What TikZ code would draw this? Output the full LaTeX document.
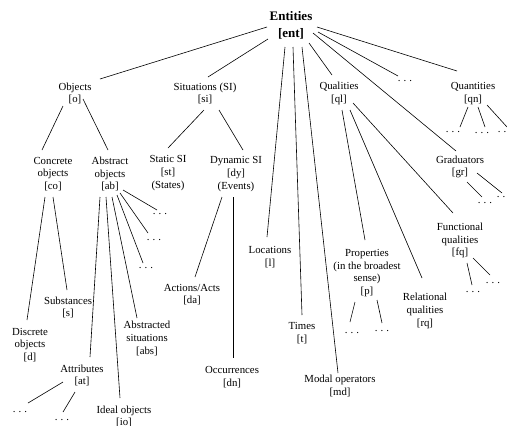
\documentclass[tikz,border=0pt]{standalone}
\usepackage{fontspec}
\setmainfont{Liberation Serif}
\tikzset{
  lbl/.style={align=center, inner sep=0pt, font=\fontsize{10.8}{12.7}\selectfont},
  rootlbl/.style={align=center, inner sep=0pt, font=\fontsize{13}{16.5}\selectfont\bfseries},
  dotsnode/.style={inner sep=0pt, text height=1.5pt, text depth=0pt, font=\fontsize{10.8}{12.7}\selectfont},
  conn/.style={draw=black, line width=0.6pt}
}
\newcommand\dotsx{.\hspace{3pt}.\hspace{3pt}.}
\newcommand\link[4]{\draw[conn] ([shift={(#2)}]#1.center) -- ([shift={(#4)}]#3.center);}
\begin{document}
\begin{tikzpicture}[x=1pt,y=-1pt]
\useasboundingbox[fill=white] (0,0) rectangle (507,426);
% nodes
\node[rootlbl] (ent) at (291,25.5) {Entities\\{[ent]}};
\node[lbl] (obj) at (75,93.5) {Objects\\{[o]}};
\node[lbl] (si) at (205,93.5) {Situations (SI)\\{[si]}};
\node[lbl] (ql) at (339,93.5) {Qualities\\{[ql]}};
\node[dotsnode] (dots0) at (405,81) {\dotsx};
\node[lbl] (qn) at (473,93.5) {Quantities\\{[qn]}};
\node[lbl] (co) at (53,174) {Concrete\\objects\\{[co]}};
\node[lbl] (ab) at (110,174) {Abstract\\objects\\{[ab]}};
\node[lbl] (st) at (168,173) {Static SI\\{[st]}\\(States)};
\node[lbl] (dy) at (236,174) {Dynamic SI\\{[dy]}\\(Events)};
\node[dotsnode] (abd1) at (160,214) {\dotsx};
\node[dotsnode] (abd2) at (154,240) {\dotsx};
\node[dotsnode] (abd3) at (146,268) {\dotsx};
\node[lbl] (loc) at (270,257) {Locations\\{[l]}};
\node[lbl] (times) at (302,333) {Times\\{[t]}};
\node[lbl] (md) at (340,386) {Modal operators\\{[md]}};
\node[lbl] (prop) at (367,273) {Properties\\(in the broadest\\sense)\\{[p]}};
\node[lbl] (rq) at (425,311) {Relational\\qualities\\{[rq]}};
\node[lbl] (fq) at (460,240.5) {Functional\\qualities\\{[fq]}};
\node[lbl] (gr) at (460,167) {Graduators\\{[gr]}};
\node[dotsnode] (gd1) at (485,203) {\dotsx};
\node[dotsnode] (gd2) at (504,197) {\dotsx};
\node[dotsnode] (fd1) at (473,292) {\dotsx};
\node[dotsnode] (fd2) at (493,283) {\dotsx};
\node[dotsnode] (qd1) at (453,132) {\dotsx};
\node[dotsnode] (qd2) at (482,133) {\dotsx};
\node[dotsnode] (qd3) at (505,132) {\dotsx};
\node[dotsnode] (pd1) at (352,333) {\dotsx};
\node[dotsnode] (pd2) at (382,331) {\dotsx};
\node[lbl] (da) at (192,294.5) {Actions/Acts\\{[da]}};
\node[lbl] (dn) at (232,377) {Occurrences\\{[dn]}};
\node[lbl] (s) at (68,307.5) {Substances\\{[s]}};
\node[lbl] (d) at (30,345) {Discrete\\objects\\{[d]}};
\node[lbl] (abs) at (147,338.5) {Abstracted\\situations\\{[abs]}};
\node[lbl] (at) at (82,375.5) {Attributes\\{[at]}};
\node[lbl] (io) at (124,416.5) {Ideal objects\\{[io]}};
\node[dotsnode] (atd1) at (20,412) {\dotsx};
\node[dotsnode] (atd2) at (62,420) {\dotsx};
% connectors
\link{ent}{-24,1.5}{obj}{25,-14.5}
\link{ent}{-23,13.5}{si}{3,-16.5}
\link{ent}{-6,21.5}{loc}{-3,-20}
\link{ent}{2,21.5}{times}{0,-18}
\link{ent}{11,21.5}{md}{-2,-13}
\link{ent}{18,17.5}{ql}{-7,-18.5}
\link{ent}{22,7.5}{gr}{-4,-16}
\link{ent}{27,6.5}{dots0}{-7,-5}
\link{ent}{26,1.5}{qn}{-16,-22.5}
\link{obj}{-12,12.5}{co}{-11,-24}
\link{obj}{8,5.5}{ab}{-2,-24}
\link{si}{-1,16.5}{st}{0,-25}
\link{si}{14,16.5}{dy}{7,-24}
\link{co}{-8,23}{d}{-3,-25}
\link{co}{0,23}{s}{-1,-17.5}
\link{ab}{-10,23}{at}{8,-18.5}
\link{ab}{-4,23}{io}{-4,-18.5}
\link{ab}{2,23}{abs}{-10,-20.5}
\link{ab}{7,21}{abd3}{-3,-5}
\link{ab}{10,19}{abd2}{-6,-7}
\link{ab}{13,16}{abd1}{-3,-4}
\link{dy}{-14,23}{da}{3,-17.5}
\link{dy}{-3,23}{dn}{1,-19}
\link{at}{-19,6.5}{atd1}{8,-9}
\link{at}{-7,16.5}{atd2}{1,-8}
\link{ql}{3,16.5}{prop}{-2,-33}
\link{ql}{11,16.5}{rq}{-3,-33}
\link{ql}{14,9.5}{fq}{-7,-27.5}
\link{qn}{-5,13.5}{qd1}{7,-5}
\link{qn}{5,13.5}{qd2}{3,-6}
\link{qn}{14,11.5}{qd3}{2,-5}
\link{gr}{7,15}{gd1}{-3,-6}
\link{gr}{17,6}{gd2}{-2,-4}
\link{fq}{7,22.5}{fd1}{-1,-7}
\link{fq}{13,17.5}{fd2}{-3,-8}
\link{prop}{-12,29}{pd1}{-2,-11}
\link{prop}{10,27}{pd2}{0,-8}
\end{tikzpicture}
\end{document}
